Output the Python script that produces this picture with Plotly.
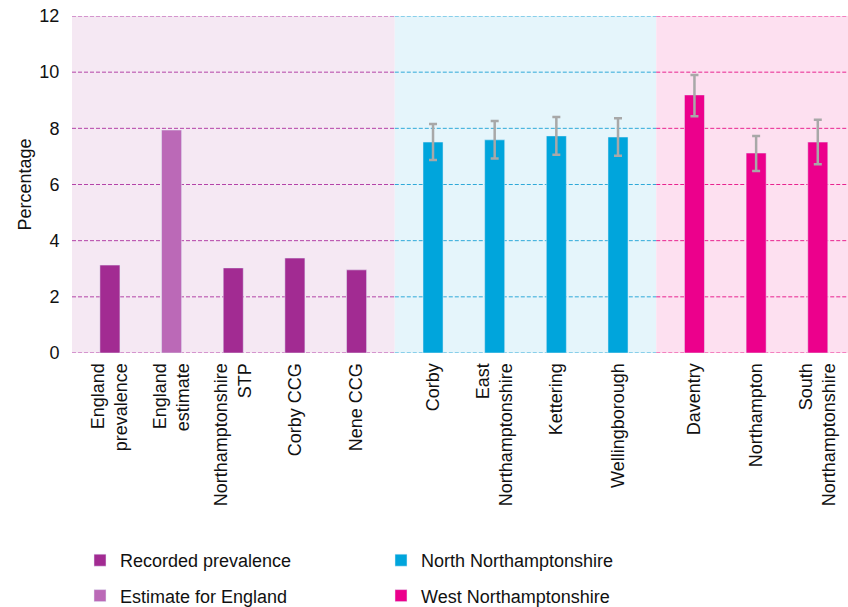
import plotly.graph_objects as go

# Categories, split into the three shaded groups
group1_labels = ["England<br>prevalence", "England<br>estimate", "Northamptonshire<br>STP",
                 "Corby CCG", "Nene CCG"]
group1_values = [3.13, 7.94, 3.03, 3.38, 2.96]
group1_is_estimate = [False, True, False, False, False]

north_labels = ["Corby", "East<br>Northamptonshire", "Kettering", "Wellingborough"]
north_values = [7.51, 7.59, 7.73, 7.69]
north_upper = [8.15, 8.26, 8.40, 8.36]
north_lower = [6.87, 6.93, 7.06, 7.02]

west_labels = ["Daventry", "Northampton", "South<br>Northamptonshire"]
west_values = [9.19, 7.12, 7.51]
west_upper = [9.90, 7.73, 8.31]
west_lower = [8.43, 6.48, 6.72]

y_ticks = [0, 2, 4, 6, 8, 10, 12]

# Colours
C_RECORDED = "#a22b92"
C_ESTIMATE = "#bb69b7"
C_NORTH = "#00a5dc"
C_WEST = "#ec008c"
C_ERR = "#a8a8a8"
BG = ["#f5e8f3", "#e5f5fb", "#fde0f0"]
GRID = ["#b443a8", "#2fa9d9", "#e8238f"]

FONT = "Liberation Sans, Arial, Helvetica, sans-serif"
W, H = 848, 607

# x positions: unit spacing within a group, a wider gap between groups
START = 0.615
GROUP_GAP = 1.24
BAR_W = 0.325

x1 = [START + i for i in range(len(group1_labels))]
x2 = [x1[-1] + GROUP_GAP + i for i in range(len(north_labels))]
x3 = [x2[-1] + GROUP_GAP + i for i in range(len(west_labels))]
x_end = x3[-1] + 0.49

bounds = [0, (x1[-1] + x2[0]) / 2, (x2[-1] + x3[0]) / 2, x_end]

fig = go.Figure()

rec_x = [x for x, e in zip(x1, group1_is_estimate) if not e]
rec_y = [v for v, e in zip(group1_values, group1_is_estimate) if not e]
est_x = [x for x, e in zip(x1, group1_is_estimate) if e]
est_y = [v for v, e in zip(group1_values, group1_is_estimate) if e]

fig.add_trace(go.Bar(x=rec_x, y=rec_y, width=BAR_W, marker_color=C_RECORDED,
                     name="Recorded prevalence", legend="legend", legendgroup="a"))
fig.add_trace(go.Bar(x=est_x, y=est_y, width=BAR_W, marker_color=C_ESTIMATE,
                     name="Estimate for England", legend="legend", legendgroup="b"))


def err(values, upper, lower):
    return dict(type="data", symmetric=False,
                array=[u - v for u, v in zip(upper, values)],
                arrayminus=[v - l for v, l in zip(values, lower)],
                color=C_ERR, thickness=2.5, width=4)


fig.add_trace(go.Bar(x=x2, y=north_values, width=BAR_W, marker_color=C_NORTH,
                     error_y=err(north_values, north_upper, north_lower),
                     name="North Northamptonshire", legend="legend2", legendgroup="c"))
fig.add_trace(go.Bar(x=x3, y=west_values, width=BAR_W, marker_color=C_WEST,
                     error_y=err(west_values, west_upper, west_lower),
                     name="West Northamptonshire", legend="legend2", legendgroup="d"))

# Shaded group backgrounds and coloured dashed gridlines
for i in range(3):
    fig.add_shape(type="rect", xref="x", yref="paper", x0=bounds[i], x1=bounds[i + 1],
                  y0=0, y1=1, fillcolor=BG[i], line_width=0, layer="below")
    for t in y_ticks:
        fig.add_shape(type="line", xref="x", yref="y", x0=bounds[i], x1=bounds[i + 1],
                      y0=t, y1=t, line=dict(color=GRID[i], width=1, dash="4px,2px"),
                      layer="below")

legend_common = dict(orientation="v", yref="container", xref="container",
                     yanchor="top", xanchor="left", traceorder="grouped",
                     tracegroupgap=9, bgcolor="rgba(0,0,0,0)",
                     font=dict(family=FONT, size=18, color="#111111"))

fig.add_annotation(text="Percentage", xref="paper", yref="paper",
                   x=-72 / (W - 72) + 24 / (W - 72), y=0.5, textangle=-90,
                   showarrow=False, xanchor="center", yanchor="middle",
                   font=dict(size=18))

fig.update_layout(
    width=W, height=H,
    margin=dict(l=72, r=0, t=16, b=254, autoexpand=False),
    plot_bgcolor="white", paper_bgcolor="white",
    font=dict(family=FONT, size=18, color="#111111"),
    barmode="overlay",
    showlegend=True,
    legend=dict(x=80 / W, y=1 - 542 / H, **legend_common),
    legend2=dict(x=381 / W, y=1 - 542 / H, **legend_common),
    xaxis=dict(range=[0, x_end], tickmode="array",
               tickvals=x1 + x2 + x3,
               ticktext=group1_labels + north_labels + west_labels,
               tickangle=-90, showgrid=False, zeroline=False, showline=False,
               ticks="outside", ticklen=2, tickcolor="rgba(0,0,0,0)",
               automargin=False),
    yaxis=dict(range=[0, 12], tickvals=y_ticks, showgrid=False, zeroline=False,
               showline=False, ticks="outside", ticklen=8, tickcolor="rgba(0,0,0,0)",
               automargin=False),
)

fig.write_html("out.html")
